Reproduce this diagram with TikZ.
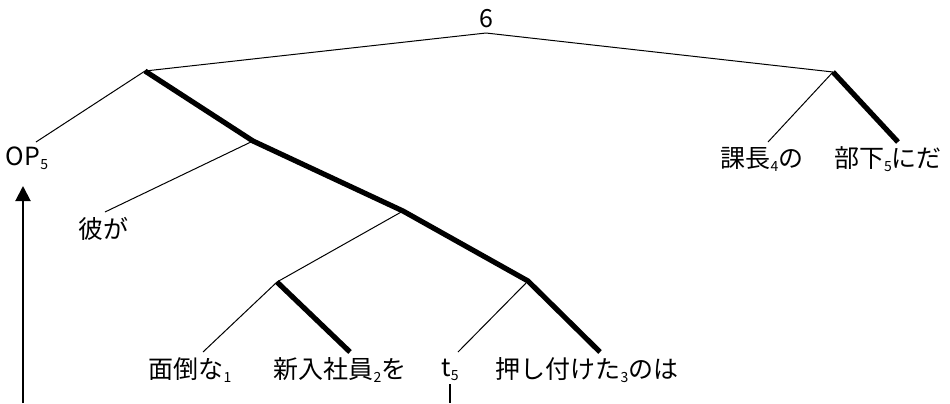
\documentclass[tikz,border=0pt]{standalone}
\usepackage{fontspec}
\setmainfont{Noto Sans CJK JP}
\usetikzlibrary{arrows.meta}
\newcommand{\idx}[1]{\raisebox{-0.3ex}{\fontsize{7}{7}\selectfont #1}}
\tikzset{
  word/.style={inner sep=0pt, font=\fontsize{12.5}{12.5}\selectfont},
  arm/.style={line width=0.5pt},
  head/.style={line width=2.6pt},
  move/.style={line width=1pt},
}
\begin{document}
\begin{tikzpicture}[x=0.5pt, y=-0.5pt]
  \useasboundingbox (0,0) rectangle (950,403);

  % --- branch points ---
  \coordinate (top) at (486,33);
  \coordinate (vp) at (145,71);
  \coordinate (vpa) at (253,141);
  \coordinate (vpb) at (403,211);
  \coordinate (np) at (277,282);
  \coordinate (vc) at (528,281);
  \coordinate (obj) at (833,72);

  % --- leaf ends ---
  \coordinate (opEnd) at (36,142);
  \coordinate (kareEnd) at (105,212);
  \coordinate (mendoEnd) at (203,352);
  \coordinate (shinEnd) at (350,352);
  \coordinate (traceEnd) at (458,352);
  \coordinate (oshiEnd) at (600,352);
  \coordinate (kachoEnd) at (768,142);
  \coordinate (buchoEnd) at (898,142);

  % --- words ---
  \node[word, anchor=south] (six) at (486,28) {6};
  \node[word] (op) at (27,158) {OP\idx{5}};
  \node[word] (kare) at (103,229) {彼が};
  \node[word] (mendo) at (190,370) {面倒な\idx{1}};
  \node[word] (shin) at (340,370) {新入社員\idx{2}を};
  \node[word] (trace) at (450,370) {t\idx{5}};
  \node[word] (oshi) at (587,370) {押し付けた\idx{3}のは};
  \node[word] (kacho) at (762,159) {課長\idx{4}の};
  \node[word] (bucho) at (888,159) {部下\idx{5}にだ};

  % --- tree ---
  \draw[arm] (vp) -- (top) -- (obj);
  \draw[arm] (vp) -- (opEnd);
  \draw[arm] (vpa) -- (kareEnd);
  \draw[arm] (vpb) -- (np);
  \draw[arm] (np) -- (mendoEnd);
  \draw[arm] (vc) -- (traceEnd);
  \draw[arm] (obj) -- (kachoEnd);
  \draw[head] (vp) -- (vpa) -- (vpb) -- (vc) -- (oshiEnd);
  \draw[head] (np) -- (shinEnd);
  \draw[head] (obj) -- (buchoEnd);

  % --- movement ---
  \coordinate (gapFoot) at (23,403);
  \coordinate (opFoot) at (23,186);
  \draw[move, -{Triangle[width=7.5pt, length=7.5pt]}] (gapFoot) -- (opFoot);
  \draw[move] (450,384) -- (450,403);
\end{tikzpicture}
\end{document}
